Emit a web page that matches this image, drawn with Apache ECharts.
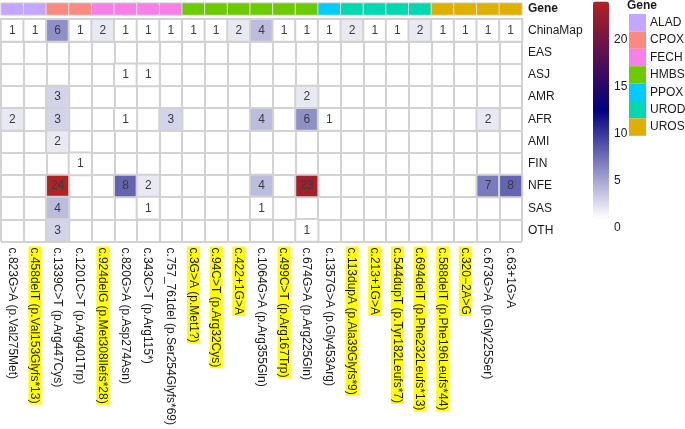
<!DOCTYPE html>
<html><head><meta charset="utf-8">
<script src="https://cdn.jsdelivr.net/npm/echarts@6/dist/echarts.min.js"></script>
<style>html,body{margin:0;padding:0;background:#fff}#c{width:685px;height:429px}</style>
</head><body><div id="c"></div><script>
const variants = [
  'c.823G>A (p.Val275Met)','c.458delT (p.Val153Glyfs*13)','c.1339C>T (p.Arg447Cys)','c.1201C>T (p.Arg401Trp)',
  'c.924delG (p.Met308Ilefs*28)','c.820G>A (p.Asp274Asn)','c.343C>T (p.Arg115*)','c.757_761del (p.Ser254Glyfs*69)',
  'c.3G>A (p.Met1?)','c.94C>T (p.Arg32Cys)','c.422+1G>A','c.1064G>A (p.Arg355Gln)','c.499C>T (p.Arg167Trp)',
  'c.674G>A (p.Arg225Gln)','c.1357G>A (p.Gly453Arg)','c.113dupA (p.Ala39Glyfs*9)','c.213+1G>A',
  'c.544dupT (p.Tyr182Leufs*7)','c.694delT (p.Phe232Leufs*13)','c.588delT (p.Phe196Leufs*44)','c.320\u22122A>G',
  'c.673G>A (p.Gly225Ser)','c.63+1G>A'
];
const variantGenes = ['ALAD','ALAD','CPOX','CPOX','FECH','FECH','FECH','FECH','HMBS','HMBS','HMBS','HMBS','HMBS','HMBS',
  'PPOX','UROD','UROD','UROD','UROD','UROS','UROS','UROS','UROS'];
const highlighted = [0,1,0,0,1,0,0,0,1,1,1,0,1,0,0,1,1,1,1,1,1,0,0];
const populations = ['ChinaMap','EAS','ASJ','AMR','AFR','AMI','FIN','NFE','SAS','OTH'];
const genes = ['ALAD','CPOX','FECH','HMBS','PPOX','UROD','UROS'];
const geneColors = ['#C3A6FF','#FA8A80','#F77FE9','#6CCB00','#00CCFF','#00D8B0','#DFB000'];
const _ = null;
const chinaMap = [1,1,6,1,2,1,1,1,1,1,2,4,1,1,1,2,1,1,2,1,1,1,1];
const eas      = [_,_,_,_,_,_,_,_,_,_,_,_,_,_,_,_,_,_,_,_,_,_,_];
const asj      = [_,_,_,_,_,1,1,_,_,_,_,_,_,_,_,_,_,_,_,_,_,_,_];
const amr      = [_,_,3,_,_,_,_,_,_,_,_,_,_,2,_,_,_,_,_,_,_,_,_];
const afr      = [2,_,3,_,_,1,_,3,_,_,_,4,_,6,1,_,_,_,_,_,_,2,_];
const ami      = [_,_,2,_,_,_,_,_,_,_,_,_,_,_,_,_,_,_,_,_,_,_,_];
const fin      = [_,_,_,1,_,_,_,_,_,_,_,_,_,_,_,_,_,_,_,_,_,_,_];
const nfe      = [_,_,24,_,_,8,2,_,_,_,_,4,_,23,_,_,_,_,_,_,_,7,8];
const sas      = [_,_,4,_,_,_,1,_,_,_,_,1,_,_,_,_,_,_,_,_,_,_,_];
const oth      = [_,_,3,_,_,_,_,_,_,_,_,_,_,1,_,_,_,_,_,_,_,_,_];
const popValues = [chinaMap, eas, asj, amr, afr, ami, fin, nfe, sas, oth];
const scaleMin = 1, scaleMax = 24;
const legendTicksMin = 0, legendTicksInterval = 5;

const annotData = variants.map((v, i) => [i, 0, genes.indexOf(variantGenes[i])]);
const cellData = [];
popValues.forEach((row, r) => row.forEach((v, c) => { if (v !== null) cellData.push([c, r, v]); }));

const FONT = 'Liberation Sans, Arial, sans-serif';
const chart = echarts.init(document.getElementById('c'), null, {renderer: 'canvas'});
chart.setOption({
  animation: false,
  textStyle: {fontFamily: FONT},
  title: {text: 'Gene', left: 627, top: 0, padding: 0,
    textStyle: {fontSize: 12, fontWeight: 'bold', color: '#1a1a1a', fontFamily: FONT}},
  grid: [
    {left: 1, top: 3, width: 521, height: 12},
    {left: 1, top: 19.3, width: 521, height: 226.7},
    {left: 593, top: 1.5, width: 16, height: 226.5}
  ],
  xAxis: [
    {gridIndex: 0, type: 'category', data: variants, axisLabel: {show: false}, axisLine: {show: false}, axisTick: {show: false}, splitLine: {show: false}},
    {gridIndex: 1, type: 'category', data: variants, position: 'bottom',
      axisLine: {show: false}, axisTick: {show: false},
      splitLine: {show: true, interval: 0, lineStyle: {color: '#d2d2d2', width: 2}},
      axisLabel: {interval: 0, rotate: -90, margin: 5, fontSize: 12, color: '#1a1a1a', fontFamily: FONT,
        formatter: (val, idx) => highlighted[idx] ? '{hl|' + val + '}' : '{n|' + val + '}',
        rich: {
          hl: {backgroundColor: '#FFFF00', fontSize: 12, color: '#1a1a1a', fontFamily: FONT, padding: [1, 1, 0, 1], lineHeight: 14},
          n: {fontSize: 12, color: '#1a1a1a', fontFamily: FONT, padding: [1, 1, 0, 1], lineHeight: 14}
        }}},
    {gridIndex: 2, type: 'value', show: false, min: 0, max: 1}
  ],
  yAxis: [
    {gridIndex: 0, type: 'category', data: ['Gene'], position: 'right',
      axisLine: {show: false}, axisTick: {show: false}, splitLine: {show: false},
      axisLabel: {fontSize: 12, fontWeight: 'bold', color: '#1a1a1a', margin: 6, fontFamily: FONT}},
    {gridIndex: 1, type: 'category', data: populations, inverse: true, position: 'right',
      axisLine: {show: false}, axisTick: {show: false},
      splitLine: {show: true, interval: 0, lineStyle: {color: '#d2d2d2', width: 2}},
      axisLabel: {fontSize: 12, color: '#1a1a1a', margin: 6, fontFamily: FONT}},
    {gridIndex: 2, type: 'value', min: legendTicksMin, max: scaleMax, interval: legendTicksInterval, position: 'right',
      axisLine: {show: false}, axisTick: {show: false}, splitLine: {show: false},
      axisLabel: {fontSize: 12, color: '#1a1a1a', margin: 5, showMaxLabel: false, fontFamily: FONT}}
  ],
  visualMap: [
    {type: 'piecewise', seriesIndex: 0, dimension: 2, orient: 'vertical', inverse: true, align: 'left',
      pieces: genes.map((g, i) => ({value: i, label: g, color: geneColors[i]})),
      left: 629, top: 14, itemWidth: 17, itemHeight: 17.4, itemGap: 0, itemSymbol: 'rect',
      textGap: 4, padding: 0, selectedMode: false, hoverLink: false,
      textStyle: {fontSize: 12, color: '#1a1a1a', fontFamily: FONT}},
    {type: 'continuous', seriesIndex: 1, min: scaleMin, max: scaleMax, calculable: false, hoverLink: false,
      inRange: {color: ['#ffffff', '#000080', '#b22222']},
      left: 593, top: 1.5, itemWidth: 16, itemHeight: 217, padding: 0, showLabel: false}
  ],
  series: [
    {type: 'heatmap', xAxisIndex: 0, yAxisIndex: 0, data: annotData,
      itemStyle: {borderColor: '#e2e2e2', borderWidth: 1}, emphasis: {disabled: true}},
    {type: 'heatmap', xAxisIndex: 1, yAxisIndex: 1, data: cellData,
      itemStyle: {borderColor: '#d2d2d2', borderWidth: 2}, emphasis: {disabled: true},
      label: {show: true, formatter: p => p.value[2], fontSize: 12, color: '#3c3c3c', fontFamily: FONT}}
  ]
});
</script></body></html>
